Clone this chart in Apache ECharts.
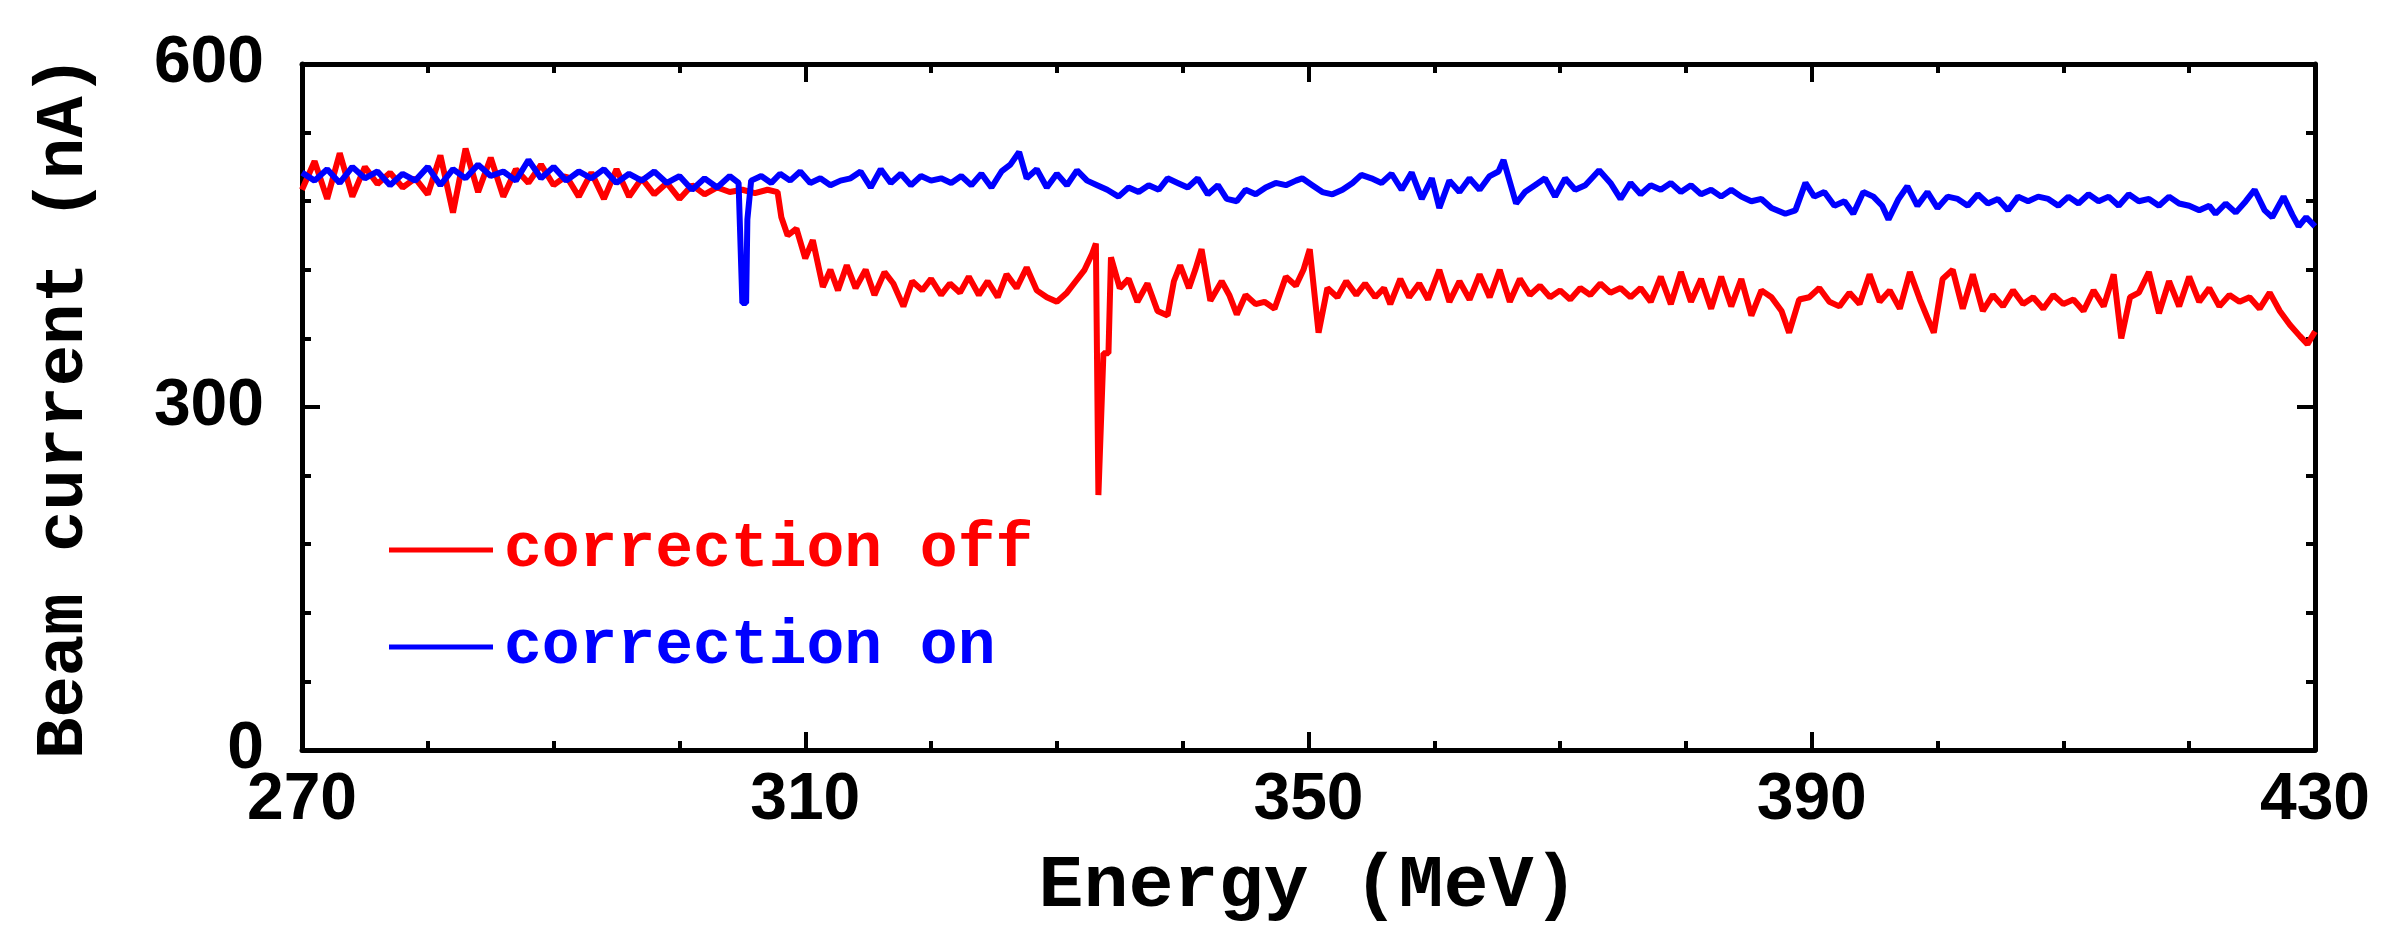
<!DOCTYPE html>
<html>
<head>
<meta charset="utf-8">
<title>Beam current vs energy</title>
<script src="https://cdn.jsdelivr.net/npm/echarts/dist/echarts.min.js"></script>
<style>
  html, body { margin: 0; padding: 0; background: #ffffff; }
  #main { width: 2407px; height: 945px; }
</style>
</head>
<body>
<div id="main"></div>
<script>
// axis ranges / ticks
const xTicks = [270, 310, 350, 390, 430];
const yTicks = [0, 300, 600];

// correction off: [energy (MeV), beam current (nA)]
const correctionOff = [
  [270,490],[271,515],[272,482],[273,522],[274,484],[275,510],[276,495],[277,505],[278,492],[279,500],
  [280,486],[281,520],[282,470],[283,526],[284,488],[285,518],[286,484],[287,508],[288,496],[289,512],
  [290,494],[291,502],[292,484],[293,505],[294,482],[295,508],[296,484],[297,500],[298,486],[299,496],
  [300,482],[301,494],[302,486],[303,492],[304,488],[305,490],[306,487],[307,490],[307.8,488],[308.1,466],
  [308.6,450],[309.3,456],[310,430],[310.6,446],[311.4,405],[312,420],[312.6,402],[313.3,424],[314,404],[314.8,420],
  [315.5,398],[316.3,418],[317,408],[317.8,388],[318.5,410],[319.3,402],[320,412],[320.8,398],[321.5,408],[322.3,400],
  [323,414],[323.8,398],[324.5,410],[325.3,396],[326,416],[326.8,404],[327.6,422],[328.4,402],[329.2,396],[330,392],
  [330.8,400],[331.5,410],[332.2,420],[332.8,434],[333.1,443],[333.3,223],[333.7,347],[334.1,347],[334.3,431],[335,404],
  [335.7,412],[336.4,392],[337.2,408],[338,384],[338.8,380],[339.3,410],[339.8,424],[340.5,404],[341,420],[341.5,438],
  [342.2,393],[343.1,410],[343.7,398],[344.3,381],[345,398],[345.8,390],[346.5,392],[347.3,386],[348.2,414],[349,406],
  [349.6,420],[350.1,438],[350.8,365],[351.5,404],[352.3,396],[353,410],[353.8,398],[354.5,408],[355.3,396],[356,404],
  [356.5,390],[357.3,412],[358,396],[358.8,408],[359.5,394],[360.4,420],[361.2,392],[362,410],[362.8,394],[363.6,416],
  [364.4,396],[365.2,420],[366,392],[366.8,412],[367.6,398],[368.4,406],[369.2,396],[370,402],[370.8,394],[371.6,404],
  [372.4,398],[373.2,408],[374,400],[374.8,404],[375.6,396],[376.4,404],[377.2,392],[378,414],[378.8,390],[379.6,418],
  [380.4,392],[381.2,412],[382,386],[382.8,414],[383.6,388],[384.4,412],[385.2,380],[386,402],[386.8,396],[387.6,384],
  [388.2,365],[389,394],[389.8,396],[390.6,404],[391.4,392],[392.2,388],[393,400],[393.8,390],[394.6,416],[395.4,392],
  [396.2,402],[397,386],[397.8,418],[398.6,394],[399.2,378],[399.7,365],[400.4,412],[401.2,420],[402,386],[402.8,416],
  [403.6,384],[404.4,398],[405.2,388],[406,402],[406.8,390],[407.6,396],[408.4,386],[409.2,398],[410,390],[410.8,394],
  [411.6,384],[412.4,402],[413.2,388],[414,416],[414.6,360],[415.3,396],[416,400],[416.8,418],[417.6,382],[418.4,410],
  [419.2,388],[420,414],[420.8,392],[421.6,404],[422.4,388],[423.2,398],[424,392],[424.8,396],[425.6,386],[426.4,400],
  [427.2,384],[428,372],[428.8,362],[429.4,355],[430,366]
];

// correction on: [energy (MeV), beam current (nA)]
const correctionOn = [
  [270,505],[271,498],[272,508],[273,496],[274,510],[275,500],[276,506],[277,494],[278,504],[279,498],
  [280,510],[281,494],[282,508],[283,500],[284,512],[285,502],[286,506],[287,498],[288,516],[289,500],
  [290,510],[291,498],[292,506],[293,500],[294,508],[295,496],[296,504],[297,498],[298,506],[299,496],
  [300,502],[301,490],[302,500],[303,492],[304,502],[304.7,496],[305,391],[305.3,391],[305.4,464],[305.7,498],
  [306.5,502],[307.3,496],[308,504],[308.8,498],[309.6,506],[310.4,496],[311.2,500],[312,494],[312.8,498],[313.6,500],
  [314.4,506],[315.2,492],[316,508],[316.8,496],[317.6,504],[318.4,494],[319.2,502],[320,498],[320.8,500],[321.6,496],
  [322.4,502],[323.2,494],[324,504],[324.8,492],[325.6,506],[326.3,512],[327,523],[327.6,500],[328.4,508],[329.2,492],
  [330,504],[330.8,494],[331.6,507],[332.4,498],[333.2,494],[334,490],[334.9,484],[335.7,492],[336.5,488],[337.3,494],
  [338.1,490],[338.8,500],[339.6,496],[340.4,492],[341.2,500],[342,486],[342.8,494],[343.5,482],[344.3,480],[345,490],
  [345.8,486],[346.6,492],[347.4,496],[348.2,494],[349,498],[349.5,500],[350.3,494],[351.1,488],[351.9,486],[352.7,490],
  [353.5,496],[354.2,503],[355,500],[355.8,496],[356.6,504],[357.4,490],[358.2,505],[359,482],[359.8,500],[360.4,474],
  [361.2,498],[362,488],[362.8,500],[363.6,490],[364.4,502],[365.1,506],[365.5,516],[366.5,478],[367.2,488],[368,494],
  [368.8,500],[369.6,484],[370.4,500],[371.2,490],[372,494],[373.1,507],[374,496],[374.8,482],[375.6,496],[376.4,486],
  [377.2,494],[378,490],[378.8,496],[379.6,488],[380.4,494],[381.2,486],[382,490],[382.8,484],[383.6,490],[384.4,484],
  [385.2,480],[386,482],[386.8,474],[387.9,469],[388.7,472],[389.5,496],[390.2,484],[391,488],[391.8,476],[392.6,480],
  [393.3,469],[394.1,488],[394.9,484],[395.6,476],[396.1,464],[396.9,482],[397.6,493],[398.4,476],[399.2,488],[400,474],
  [400.8,484],[401.6,482],[402.4,476],[403.2,486],[404,478],[404.8,482],[405.6,472],[406.4,484],[407.2,480],[408,484],
  [408.8,482],[409.6,476],[410.4,484],[411.2,478],[412,486],[412.8,480],[413.6,484],[414.4,476],[415.2,486],[416,480],
  [416.8,482],[417.6,476],[418.4,484],[419.2,478],[420,476],[420.8,472],[421.6,476],[422.1,469],[422.9,478],[423.7,470],
  [424.5,480],[425.2,490],[426,472],[426.6,466],[427.5,484],[428.2,468],[428.7,458],[429.3,466],[430,458]
];

const monoFont = "'Liberation Mono', 'DejaVu Sans Mono', monospace";
const tickFont = "'Liberation Sans', Arial, sans-serif";

const chartDom = document.getElementById('main');
const myChart = echarts.init(chartDom);

// shared frame style: black box with inward ticks on all four sides
const frameLine = { show: true, onZero: false, lineStyle: { color: '#000', width: 5 } };
const majorTick = { show: true, inside: true, length: 18, lineStyle: { color: '#000', width: 4 } };

const xBase = {
  type: 'value',
  min: xTicks[0],
  max: xTicks[xTicks.length - 1],
  interval: xTicks[1] - xTicks[0],
  axisLine: frameLine,
  axisTick: majorTick,
  minorTick: { show: true, splitNumber: 4, length: 9, lineStyle: { color: '#000', width: 4 } },
  splitLine: { show: false },
  minorSplitLine: { show: false }
};

const yBase = {
  type: 'value',
  min: yTicks[0],
  max: yTicks[yTicks.length - 1],
  interval: yTicks[1] - yTicks[0],
  axisLine: frameLine,
  axisTick: majorTick,
  minorTick: { show: true, splitNumber: 5, length: 9, lineStyle: { color: '#000', width: 4 } },
  splitLine: { show: false },
  minorSplitLine: { show: false }
};

const option = {
  backgroundColor: '#ffffff',
  animation: false,
  grid: { left: 302, right: 92, top: 64, bottom: 195, containLabel: false },
  legend: {
    orient: 'vertical',
    left: 384,
    top: 510,
    itemWidth: 104,
    itemHeight: 5,
    itemGap: 27,
    selectedMode: false,
    textStyle: { fontFamily: monoFont, fontWeight: 'bold', fontSize: 63, lineHeight: 70, padding: [0, 0, 0, 6] },
    data: [
      { name: 'correction off', icon: 'rect', textStyle: { color: '#ff0000' } },
      { name: 'correction on', icon: 'rect', textStyle: { color: '#0000ff' } }
    ]
  },
  xAxis: [
    {
      ...xBase,
      position: 'bottom',
      axisLabel: { show: true, color: '#000', fontFamily: tickFont, fontWeight: 'bold', fontSize: 66, margin: 18 },
      name: 'Energy (MeV)',
      nameLocation: 'middle',
      nameGap: 100,
      nameTextStyle: { color: '#000', fontFamily: monoFont, fontWeight: 'bold', fontSize: 75 }
    },
    { ...xBase, position: 'top', axisLabel: { show: false } }
  ],
  yAxis: [
    {
      ...yBase,
      position: 'left',
      axisLabel: { show: true, color: '#000', fontFamily: tickFont, fontWeight: 'bold', fontSize: 66, margin: 38 },
      name: 'Beam current (nA)',
      nameLocation: 'middle',
      nameGap: 203,
      nameTextStyle: { color: '#000', fontFamily: monoFont, fontWeight: 'bold', fontSize: 69 }
    },
    { ...yBase, position: 'right', axisLabel: { show: false } }
  ],
  series: [
    {
      name: 'correction off',
      type: 'line',
      data: correctionOff,
      showSymbol: false,
      color: '#ff0000',
      lineStyle: { color: '#ff0000', width: 6 }
    },
    {
      name: 'correction on',
      type: 'line',
      data: correctionOn,
      showSymbol: false,
      color: '#0000ff',
      lineStyle: { color: '#0000ff', width: 6 }
    }
  ]
};

myChart.setOption(option);
</script>
</body>
</html>
